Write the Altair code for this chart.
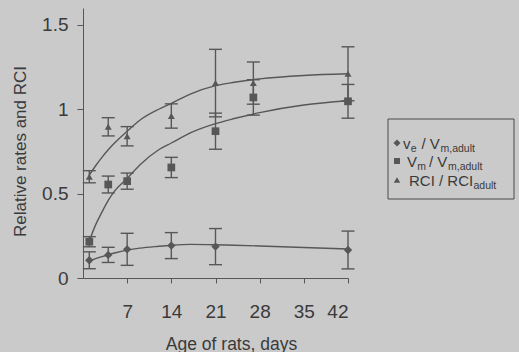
import altair as alt
import pandas as pd

# Measured means and error half-widths by age (days)
ve_days = [1, 4, 7, 14, 21, 42]
ve_mean = [0.105, 0.137, 0.170, 0.192, 0.186, 0.166]
ve_err = [0.050, 0.045, 0.095, 0.077, 0.107, 0.112]

vm_days = [1, 4, 7, 14, 21, 27, 42]
vm_mean = [0.215, 0.554, 0.574, 0.655, 0.870, 1.070, 1.047]
vm_err = [0.030, 0.050, 0.048, 0.060, 0.107, 0.105, 0.100]

rci_days = [1, 4, 7, 14, 21, 27, 42]
rci_mean = [0.600, 0.896, 0.840, 0.960, 1.155, 1.155, 1.210]
rci_err = [0.036, 0.054, 0.057, 0.072, 0.200, 0.125, 0.160]

# Fitted curves, sampled along the age axis
fit_days = [1, 2, 3, 4, 5, 7, 9, 12, 14, 17, 21, 24, 28, 35, 42]
ve_fit = [0.100, 0.115, 0.127, 0.138, 0.148, 0.165, 0.177, 0.188, 0.194, 0.199, 0.197, 0.194, 0.190, 0.181, 0.172]
vm_fit = [0.220, 0.315, 0.390, 0.460, 0.515, 0.590, 0.670, 0.760, 0.800, 0.860, 0.915, 0.945, 0.980, 1.025, 1.050]
rci_fit = [0.610, 0.665, 0.715, 0.760, 0.800, 0.870, 0.935, 1.000, 1.035, 1.090, 1.140, 1.160, 1.180, 1.200, 1.210]

series_names = ["ve", "vm", "rci"]

points = pd.concat([
    pd.DataFrame({"day": ve_days, "value": ve_mean, "err": ve_err, "series": "ve"}),
    pd.DataFrame({"day": vm_days, "value": vm_mean, "err": vm_err, "series": "vm"}),
    pd.DataFrame({"day": rci_days, "value": rci_mean, "err": rci_err, "series": "rci"}),
], ignore_index=True)

fits = pd.concat([
    pd.DataFrame({"day": fit_days, "value": ve_fit, "series": "ve"}),
    pd.DataFrame({"day": fit_days, "value": vm_fit, "series": "vm"}),
    pd.DataFrame({"day": fit_days, "value": rci_fit, "series": "rci"}),
], ignore_index=True)

INK = "#575757"
TEXT = "#3a3a3a"
BG = "#cacaca"
FONT = "Liberation Sans"
CAP = "M-1,0L1,0"  # horizontal stroke used as an error-bar cap

x_scale = alt.Scale(domain=[0, 42], nice=False, zero=False)
y_scale = alt.Scale(domain=[0, 1.6], nice=False)

x_axis = alt.Axis(
    values=[7, 14, 21, 28, 35, 42], tickSize=5, labelPadding=19,
    labelFont=FONT, labelFontSize=19, labelColor=TEXT, title="Age of rats, days",
    titleFont=FONT, titleFontSize=17.5, titleFontWeight="normal", titleColor=TEXT,
    titleX=148, titleY=71, titleBaseline="alphabetic", titleAlign="center",
    domainColor=INK, tickColor=INK, grid=False,
)
y_axis = alt.Axis(
    values=[0, 0.5, 1, 1.5], format="~g", tickSize=6, labelPadding=9,
    labelFont=FONT, labelFontSize=19, labelColor=TEXT, title="Relative rates and RCI",
    titleFont=FONT, titleFontSize=17, titleFontWeight="normal", titleColor=TEXT,
    titleX=-58, titleY=143, titleAngle=270, titleBaseline="alphabetic",
    titleAlign="center", domainColor=INK, tickColor=INK, grid=False,
)

X = alt.X("day:Q", scale=x_scale, axis=x_axis)
Y = alt.Y("value:Q", scale=y_scale, axis=y_axis)

curves = alt.Chart(fits).mark_line(
    interpolate="monotone", color=INK, strokeWidth=1.4
).encode(x=X, y=Y, detail="series:N")

base = alt.Chart(points).transform_calculate(
    lo="datum.value - datum.err", hi="datum.value + datum.err"
)

bars = base.mark_rule(color=INK, strokeWidth=1.4).encode(
    x=X, y=alt.Y("lo:Q", scale=y_scale, axis=y_axis), y2="hi:Q"
)
caps_lo = base.mark_point(shape=CAP, size=169, filled=False, opacity=1,
                          color=INK, strokeWidth=1.4).encode(
    x=X, y=alt.Y("lo:Q", scale=y_scale, axis=y_axis)
)
caps_hi = base.mark_point(shape=CAP, size=169, filled=False, opacity=1,
                          color=INK, strokeWidth=1.4).encode(
    x=X, y=alt.Y("hi:Q", scale=y_scale, axis=y_axis)
)

markers = base.mark_point(filled=True, opacity=1, color=INK).encode(
    x=X, y=Y,
    shape=alt.Shape("series:N", scale=alt.Scale(domain=series_names,
                    range=["diamond", "square", "triangle-up"]), legend=None),
    size=alt.Size("series:N", scale=alt.Scale(domain=series_names,
                  range=[70, 49, 64]), legend=None),
)

# Hand-built legend with subscripted labels
one = pd.DataFrame({"k": [0]})


def label(text, x, y, size):
    return alt.Chart(one).mark_text(
        text=text, align="left", baseline="alphabetic", fontSize=size,
        font=FONT, color=TEXT
    ).encode(x=alt.value(x), y=alt.value(y))


def symbol(shape, x, y, size):
    return alt.Chart(one).mark_point(
        shape=shape, filled=True, opacity=1, color=INK, size=size
    ).encode(x=alt.value(x), y=alt.value(y))


box = alt.Chart(one).mark_rect(
    fillOpacity=0, stroke="#4a4a4a", strokeWidth=1
).encode(x=alt.value(305), x2=alt.value(431), y=alt.value(111), y2=alt.value(191))

MAIN, SUB = 15, 10.5
legend = [
    box,
    symbol("diamond", 314, 135, 50),
    label("v", 320, 140.5, MAIN), label("e", 327.8, 143.5, SUB),
    label("/ V", 338.5, 140.5, MAIN), label("m,adult", 357.5, 143.5, SUB),
    symbol("square", 314, 153, 36),
    label("V", 324, 159, MAIN), label("m", 334.3, 162, SUB),
    label("/ V", 346, 159, MAIN), label("m,adult", 365, 162, SUB),
    symbol("triangle-up", 314, 172, 42),
    label("RCI / RCI", 326, 178, MAIN), label("adult", 390.5, 181, SUB),
]

chart = alt.layer(curves, bars, caps_lo, caps_hi, markers, *legend).properties(
    width=265, height=270,
    autosize=alt.AutoSizeParams(type="none"),
    padding={"left": 83, "top": 8, "right": 171, "bottom": 74},
    background=BG,
).configure_view(stroke=None).configure_axis(grid=False)

chart.save("out.html", embed_options={"renderer": "svg", "actions": False})
